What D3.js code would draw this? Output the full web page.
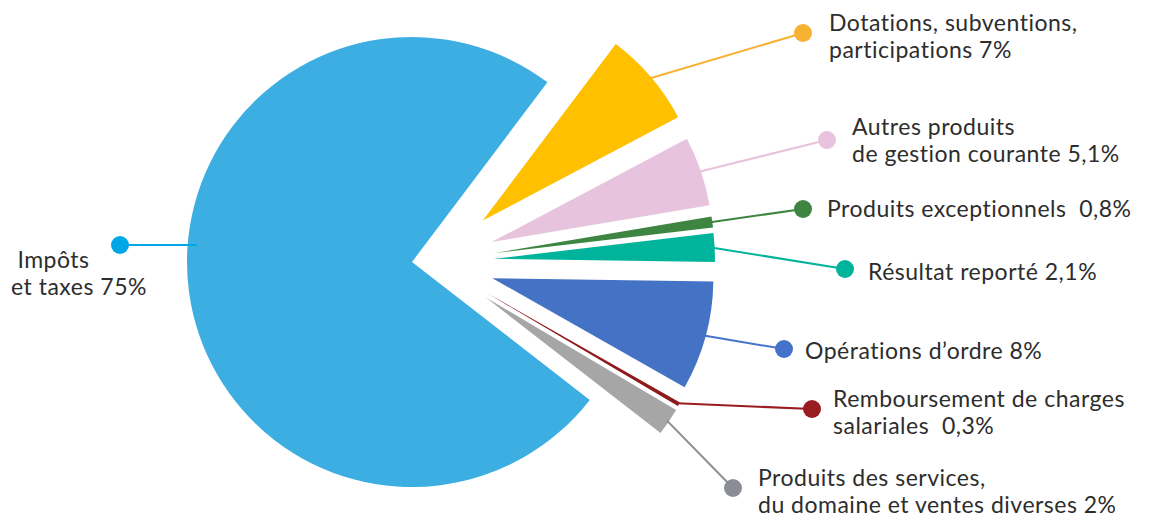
<!DOCTYPE html>
<html>
<head>
<meta charset="utf-8">
<script src="https://cdn.jsdelivr.net/npm/d3@7"></script>
<style>
  body { margin: 0; background: #fff; }
  svg text { font-family: Lato, "Noto Sans", sans-serif; font-size: 23px; letter-spacing: 0.5px; fill: #2d2d2d; white-space: pre; }
</style>
</head>
<body>
<div id="chart"></div>
<script>
// Recettes de fonctionnement, en % du total

var categories = [
  "Impôts et taxes",
  "Dotations, subventions, participations",
  "Autres produits de gestion courante",
  "Produits exceptionnels",
  "Résultat reporté",
  "Opérations d’ordre",
  "Remboursement de charges salariales",
  "Produits des services, du domaine et ventes diverses"
];
var values = [75, 7, 5.1, 0.8, 2.1, 8, 0.3, 2];
var labelLines = [
  [" Impôts", "et taxes 75%"],
  ["Dotations, subventions,", "participations 7%"],
  ["Autres produits", "de gestion courante 5,1%"],
  ["Produits exceptionnels  0,8%"],
  ["Résultat reporté 2,1%"],
  ["Opérations d’ordre 8%"],
  ["Remboursement de charges", "salariales  0,3%"],
  ["Produits des services,", "du domaine et ventes diverses 2%"]
];
var sliceColors = ["#3daee2", "#ffc000", "#e8c3de", "#3d8540", "#00b49c", "#4472c4", "#8e1a1c", "#a6a6a6"];
var dotColors   = ["#00a7e6", "#f7b133", "#e8c3de", "#3d8540", "#00b49c", "#4573cc", "#981c20", "#8a8d94"];

// label layout: leader dot and first text baseline
var dotPos  = [[120, 245], [803, 33], [827, 140], [803, 209], [845, 269], [784, 349], [812, 409], [733, 488]];
var textPos = [[11, 268], [829, 31], [852, 135], [827, 217], [868, 280], [805, 359], [833, 407], [758, 486]];
var lineStep = 27;

var width = 1156, height = 517;
var cx = 412, cy = 262;
var rBig = 225, rSmall = 221;
var pull = 82;
var deg = Math.PI / 180;

var svg = d3.select('#chart').append('svg')
  .attr('width', width)
  .attr('height', height);

var rows = categories.map(function(c, i) { return { name: c, value: values[i], i: i }; });

// small slices begin upper right, big slice fills the rest
var start = 37 * deg - 360 * deg * (values[0] / d3.sum(values));
var pie = d3.pie().sort(null).value(function(d) { return d.value; })
  .startAngle(start).endAngle(start + 2 * Math.PI);
var arcs = pie(rows);

function offset(d) {
  if (d.data.i === 0) return [0, 0];
  var mid = (d.startAngle + d.endAngle) / 2;
  // exploded slices fan out, direction pulled toward the horizontal
  var a = Math.PI / 2 + 0.75 * (mid - Math.PI / 2);
  return [pull * Math.sin(a), -pull * Math.cos(a)];
}

var g = svg.append('g').attr('transform', 'translate(' + cx + ',' + cy + ')');

g.selectAll('path.slice')
  .data(arcs)
  .enter().append('path')
  .attr('class', 'slice')
  .attr('transform', function(d) { var o = offset(d); return 'translate(' + o[0] + ',' + o[1] + ')'; })
  .attr('d', function(d) {
    var r = d.data.i === 0 ? rBig : rSmall;
    return d3.arc().innerRadius(0).outerRadius(r)(d);
  })
  .attr('fill', function(d) { return sliceColors[d.data.i]; });

// leader lines
arcs.forEach(function(d) {
  var i = d.data.i;
  var o = offset(d);
  var dot = [dotPos[i][0] - cx, dotPos[i][1] - cy];
  var p;
  if (i === 0) {
    var dy = dot[1];
    p = [-Math.sqrt(rBig * rBig - dy * dy) + 9, dy];
  } else {
    var mid = (d.startAngle + d.endAngle) / 2;
    var r = rSmall - 2;
    p = [o[0] + r * Math.sin(mid), o[1] - r * Math.cos(mid)];
  }
  g.append('line')
    .attr('x1', p[0]).attr('y1', p[1])
    .attr('x2', dot[0]).attr('y2', dot[1])
    .attr('stroke', dotColors[i])
    .attr('stroke-width', 2);
  g.append('circle')
    .attr('cx', dot[0]).attr('cy', dot[1])
    .attr('r', 9)
    .attr('fill', dotColors[i]);
});

// labels
labelLines.forEach(function(lines, i) {
  var t = svg.append('text')
    .attr('x', textPos[i][0])
    .attr('y', textPos[i][1]);
  lines.forEach(function(line, k) {
    t.append('tspan')
      .attr('x', textPos[i][0])
      .attr('dy', k === 0 ? 0 : lineStep)
      .text(line);
  });
});
</script>
</body>
</html>
